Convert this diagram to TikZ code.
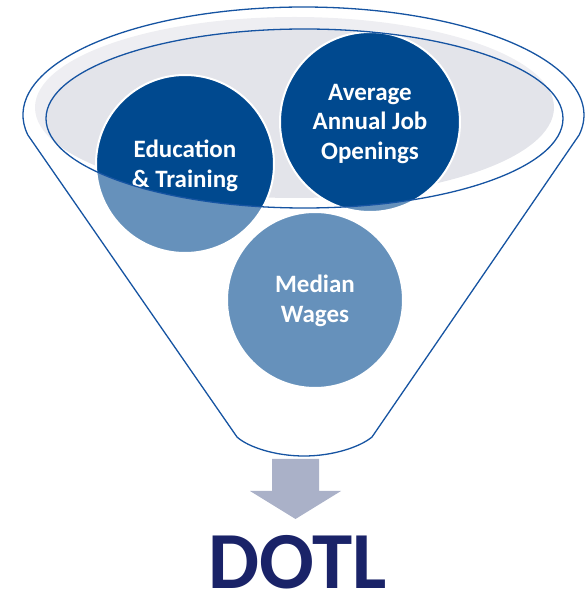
\documentclass[tikz,border=0pt]{standalone}
\usepackage{fontspec}
\setmainfont{Carlito}
\definecolor{bubbleblue}{RGB}{0,73,143}
\definecolor{rimblue}{RGB}{22,84,162}
\definecolor{panelgray}{RGB}{227,228,234}
\definecolor{arrowgray}{RGB}{170,177,200}
\definecolor{titlenavy}{RGB}{26,35,104}
\begin{document}
\begin{tikzpicture}[x=1pt,y=1pt,
  bubble/.style={circle, draw=white, line width=2pt, fill=bubbleblue,
    inner sep=0pt},
  bubbletext/.style={text=white, align=center, inner sep=0pt,
    font=\fontsize{25}{29.5}\selectfont\bfseries},
  rim/.style={draw=rimblue, line width=1.3pt},
  wall/.style={fill=white, fill opacity=0.4, even odd rule},
  title/.style={text=titlenavy, inner sep=0pt, text depth=0pt,
    font=\fontsize{81}{90}\selectfont\bfseries}]
\useasboundingbox (0,0) rectangle (586,595);

% gray mouth of the funnel
\fill[panelgray] (294.5,487.5) ellipse [x radius=259.5, y radius=90.5];

% the three criteria
\node[bubble, minimum size=178pt] (edu)  at (185,431) {};
\node[bubble, minimum size=180pt] (avg)  at (370,473) {};
\node[bubble, minimum size=176pt] (wage) at (315,295) {};
\node[bubbletext] (edutext)  at ([yshift=-2pt]edu.center)  {Education\\\& Training};
\node[bubbletext] (avgtext)  at ([yshift=-2pt]avg.center)  {Average\\Annual Job\\Openings};
\node[bubbletext] (wagetext) at ([yshift=-1pt]wage.center) {Median\\Wages};

% translucent front wall of the funnel
\fill[wall]
  (27.85,460) arc[start angle=190.67, end angle=-10.67, x radius=280.5, y radius=108]
  -- (372,158) .. controls (360,148) and (333,139) .. (304,139)
  .. controls (275,139) and (248,148) .. (237,158) -- cycle
  (304.5,476.5) ellipse [x radius=258.5, y radius=89.5];

% funnel outline and inner rim
\draw[rim]
  (27.85,460) arc[start angle=190.67, end angle=-10.67, x radius=280.5, y radius=108]
  -- (372,158) .. controls (360,148) and (333,139) .. (304,139)
  .. controls (275,139) and (248,148) .. (237,158) -- cycle;
\draw[rim] (304.5,476.5) ellipse [x radius=258.5, y radius=89.5];

% output arrow
\fill[arrowgray] (272,136) -- (319,136) -- (319,104) -- (341,104)
  -- (295.5,76) -- (250,104) -- (272,104) -- cycle;

% result
\node[title, anchor=base] (dotl) at (298,6) {DOTL};
\end{tikzpicture}
\end{document}
